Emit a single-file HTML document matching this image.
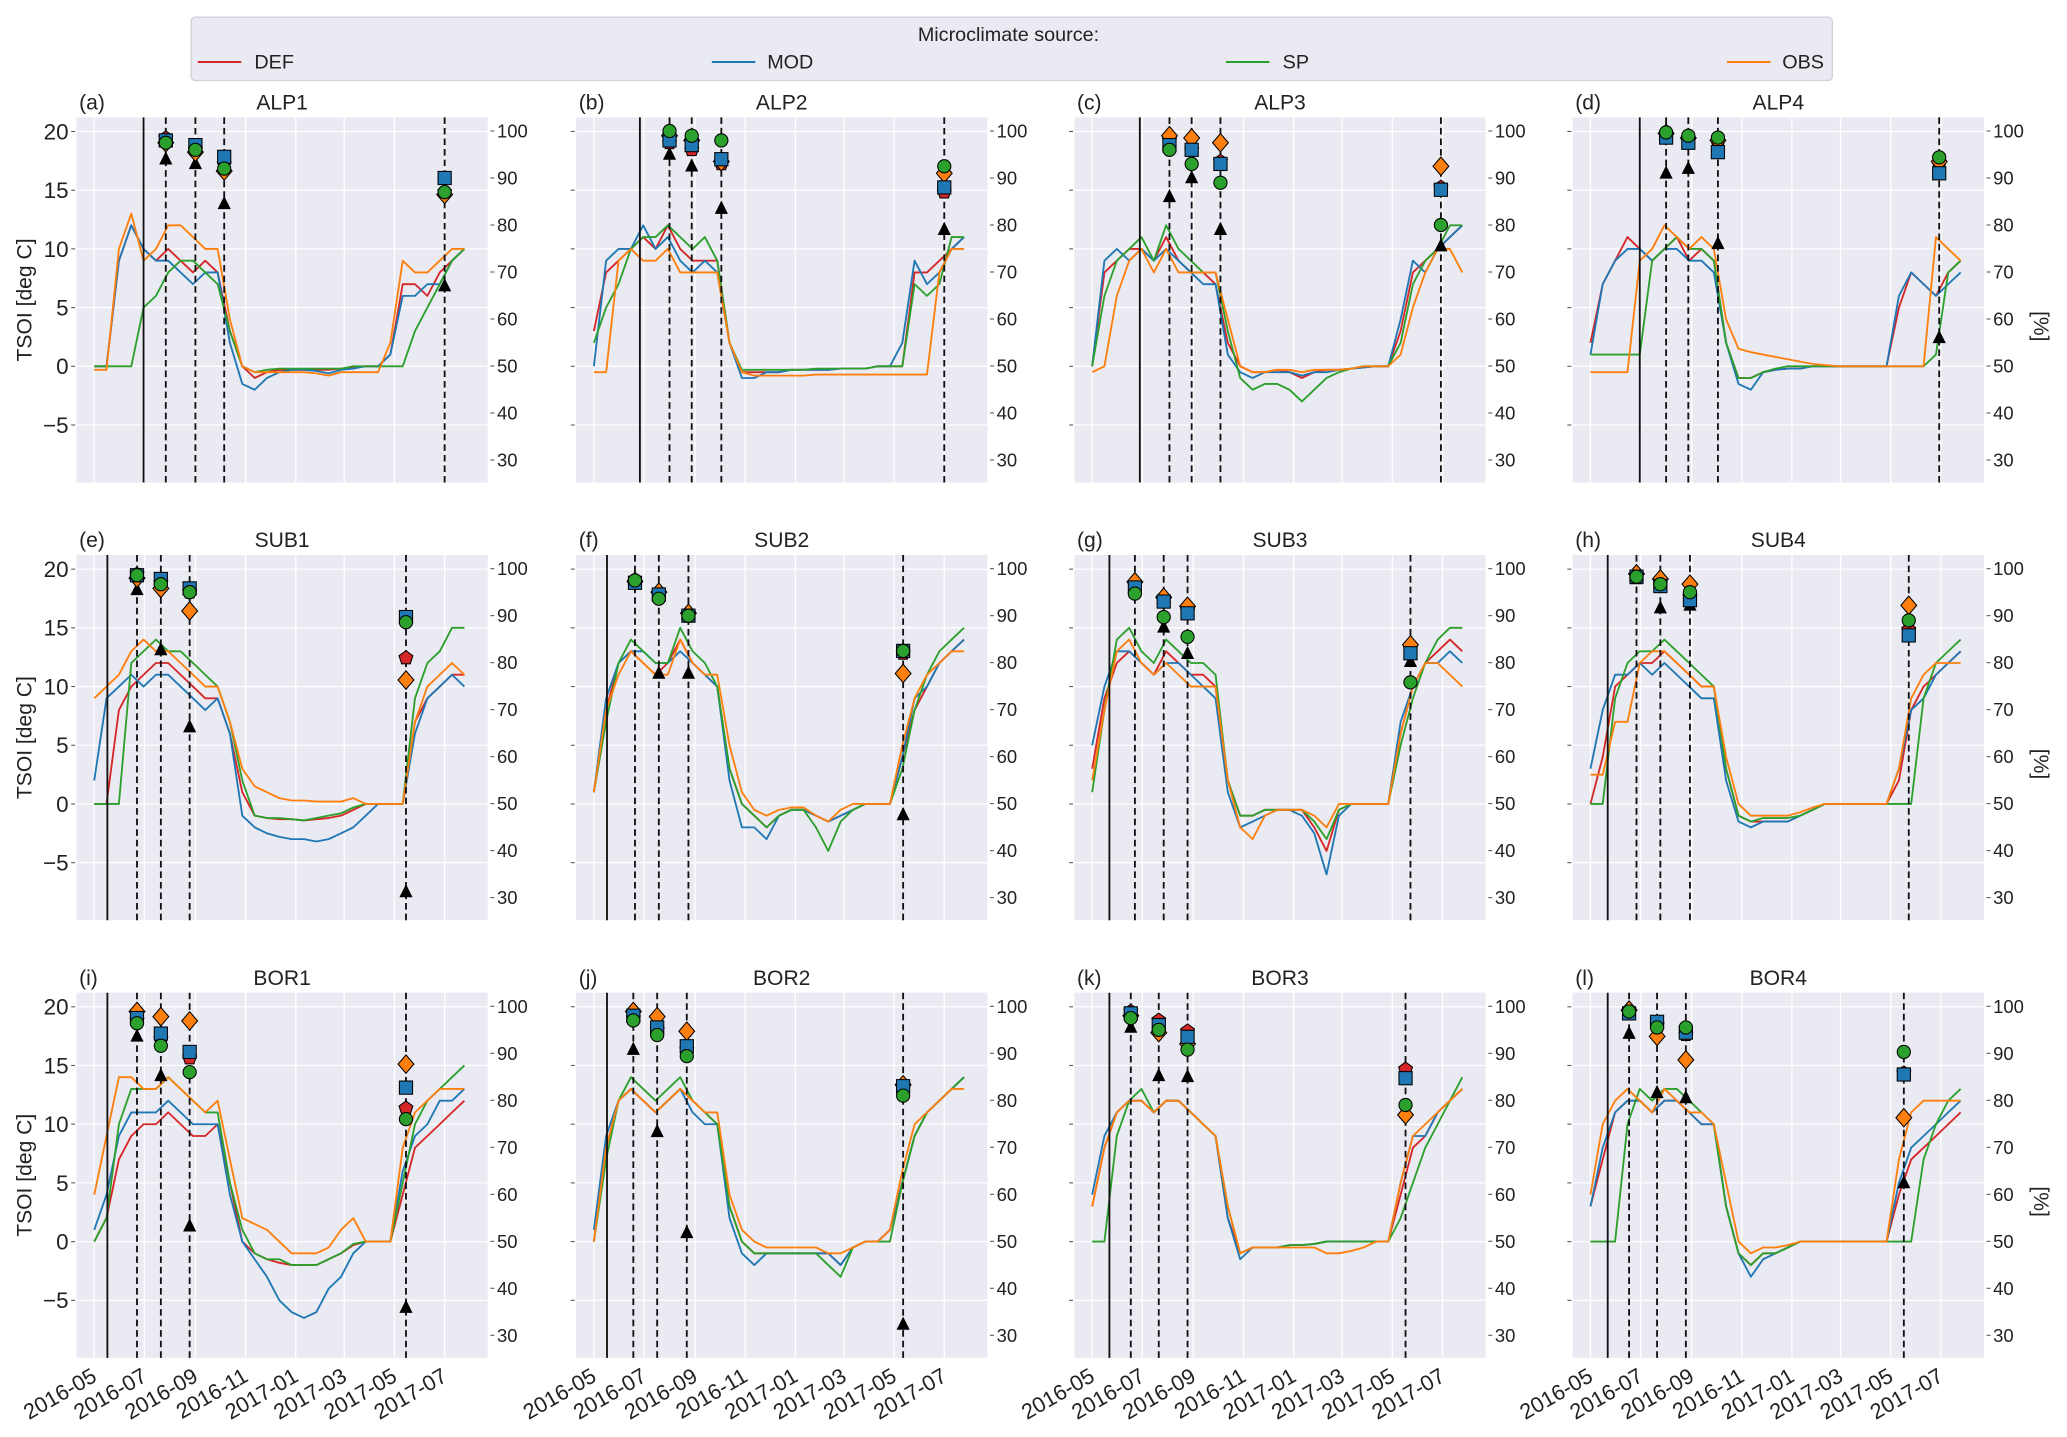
<!DOCTYPE html>
<html><head><meta charset="utf-8"><style>
html,body{margin:0;padding:0;background:#fff;}
svg{display:block;font-family:"Liberation Sans","DejaVu Sans",sans-serif;}
</style></head><body>
<svg id="fig" width="2067" height="1437" viewBox="0 0 1568 1090" xmlns="http://www.w3.org/2000/svg">
<g>
<rect x="145" y="13" width="1245" height="48" rx="3" fill="#eaeaf2" stroke="#d0d0d8" stroke-width="1"/>
<text x="765" y="31" font-size="15" text-anchor="middle" fill="#222">Microclimate source:</text>
<g><line x1="150" y1="47" x2="183" y2="47" stroke="#d62728" stroke-width="1.5"/><text x="193" y="52" font-size="15" fill="#222">DEF</text></g>
<g><line x1="540" y1="47" x2="573" y2="47" stroke="#1f77b4" stroke-width="1.5"/><text x="582" y="52" font-size="15" fill="#222">MOD</text></g>
<g><line x1="930" y1="47" x2="963" y2="47" stroke="#2ca02c" stroke-width="1.5"/><text x="973" y="52" font-size="15" fill="#222">SP</text></g>
<g><line x1="1310" y1="47" x2="1343" y2="47" stroke="#ff7f0e" stroke-width="1.5"/><text x="1352" y="52" font-size="15" fill="#222">OBS</text></g>
</g>
</svg>
<script>
const DAYS=[0,15,30,45,60,75,90,105,120,135,150,165,180,195,210,225,240,255,270,285,300,315,330,345,360,375,390,405,420,435,450];
const XTICK_DAYS=[0,61,123,184,245,304,365,426];
const XTICK_LABELS=["2016-05","2016-07","2016-09","2016-11","2017-01","2017-03","2017-05","2017-07"];
const YTICKS=[20,15,10,5,0,-5];
const YTICK_LABELS=["20","15","10","5","0","\u22125"];
const RTICKS=[100,90,80,70,60,50,40,30];

const ALP1_DEF=[0,0,9,12,10,9,10,9,8,9,8,3,0,-1,-0.5,-0.3,-0.3,-0.3,-0.3,-0.3,-0.2,-0.1,0,0,1,7,7,6,8,9,10];
const ALP1_MOD=[0,0,9,12,10,9,9,8,7,8,8,2,-1.5,-2,-1,-0.5,-0.3,-0.3,-0.4,-0.6,-0.3,-0.2,0,0,1,6,6,7,7,9,10];
const ALP1_SP=[0,0,0,0,5,6,8,9,9,8,7,3,0,-0.5,-0.3,-0.2,-0.2,-0.2,-0.2,-0.2,-0.2,0,0,0,0,0,3,5,7,9,10];
const ALP1_OBS=[-0.3,-0.3,10,13,9,10,12,12,11,10,10,4,0,-0.5,-0.5,-0.5,-0.5,-0.5,-0.6,-0.8,-0.5,-0.5,-0.5,-0.5,2,9,8,8,9,10,10];
const ALP2_DEF=[3,8,9,10,11,10,12,10,9,9,9,2,-0.5,-0.5,-0.5,-0.5,-0.3,-0.3,-0.3,-0.3,-0.2,-0.2,-0.2,0,0,0,8,8,9,10,11];
const ALP2_MOD=[0,9,10,10,12,10,11,9,8,9,8,2,-1,-1,-0.5,-0.5,-0.3,-0.3,-0.3,-0.3,-0.2,-0.2,-0.2,0,0,2,9,7,8,10,11];
const ALP2_SP=[2,5,7,10,11,11,12,11,10,11,9,2,-0.3,-0.3,-0.3,-0.3,-0.3,-0.3,-0.2,-0.2,-0.2,-0.2,-0.2,0,0,0,7,6,7,11,11];
const ALP2_OBS=[-0.5,-0.5,9,10,9,9,10,8,8,8,8,2,-0.5,-0.8,-0.8,-0.8,-0.8,-0.8,-0.7,-0.7,-0.7,-0.7,-0.7,-0.7,-0.7,-0.7,-0.7,-0.7,8,10,10];
const ALP3_DEF=[0,8,9,10,10,9,11,9,8,8,7,2,0,-0.5,-0.5,-0.3,-0.5,-1,-0.5,-0.3,-0.3,-0.2,-0.1,0,0,3,8,9,10,11,12];
const ALP3_MOD=[0,9,10,9,10,9,10,9,8,7,7,1,-0.5,-1,-0.5,-0.5,-0.5,-0.8,-0.5,-0.5,-0.3,-0.2,-0.1,0,0,4,9,8,10,11,12];
const ALP3_SP=[0,6,9,10,11,9,12,10,9,8,8,3,-1,-2,-1.5,-1.5,-2,-3,-2,-1,-0.5,-0.2,0,0,0,2,7,9,10,12,12];
const ALP3_OBS=[-0.5,0,6,9,10,8,10,8,8,8,8,4,0,-0.5,-0.5,-0.3,-0.3,-0.5,-0.3,-0.3,-0.3,-0.2,0,0,0,1,5,8,10,10,8];
const ALP4_DEF=[2,7,9,11,10,9,10,11,9,10,9,2,-1,-1,-0.5,-0.3,-0.2,-0.2,0,0,0,0,0,0,0,5,8,7,6,8,9];
const ALP4_MOD=[1,7,9,10,10,9,10,10,9,9,8,2,-1.5,-2,-0.5,-0.3,-0.2,-0.2,0,0,0,0,0,0,0,6,8,7,6,7,8];
const ALP4_SP=[1,1,1,1,1,9,10,11,10,10,9,2,-1,-1,-0.5,-0.2,0,0,0,0,0,0,0,0,0,0,0,0,1,8,9];
const ALP4_OBS=[-0.5,-0.5,-0.5,-0.5,9,10,12,11,10,11,10,4,1.5,1.2,1,0.8,0.6,0.4,0.2,0.1,0,0,0,0,0,0,0,0,11,10,9];
const SUB1_DEF=[0,0,8,10,11,12,12,11,10,9,9,6,1,-1,-1.2,-1.3,-1.3,-1.4,-1.3,-1.2,-1,-0.5,0,0,0,0,7,9,10,11,11];
const SUB1_MOD=[2,9,10,11,10,11,11,10,9,8,9,6,-1,-2,-2.5,-2.8,-3,-3,-3.2,-3,-2.5,-2,-1,0,0,0,6,9,10,11,10];
const SUB1_SP=[0,0,0,12,13,14,13,13,12,11,10,7,2,-1,-1.2,-1.2,-1.3,-1.4,-1.2,-1,-0.8,-0.3,0,0,0,0,9,12,13,15,15];
const SUB1_OBS=[9,10,11,13,14,13,13,12,11,10,10,7,3,1.5,1,0.5,0.3,0.3,0.2,0.2,0.2,0.5,0,0,0,0,7,10,11,12,11];
const SUB2_DEF=[1,8,12,13,12,11,12,14,12,11,10,3,0,-1,-2,-1,-0.5,-0.5,-1,-1.5,-1,-0.5,0,0,0,4,8,10,12,13,14];
const SUB2_MOD=[1,9,12,13,13,12,12,13,12,11,10,2,-2,-2,-3,-1,-0.5,-0.5,-1,-1.5,-1,-0.5,0,0,0,4,9,10,12,13,14];
const SUB2_SP=[1,7,12,14,13,12,12,15,13,12,10,3,0,-1,-2,-1,-0.5,-0.5,-2,-4,-1.5,-0.5,0,0,0,3,8,11,13,14,15];
const SUB2_OBS=[1,8,11,13,12,11,11,14,12,11,11,5,1,-0.5,-1,-0.5,-0.3,-0.3,-1,-1.5,-0.5,0,0,0,0,5,9,11,12,13,13];
const SUB3_DEF=[3,9,12,13,12,11,13,12,11,11,10,2,-1,-1,-0.5,-0.5,-0.5,-0.5,-2,-4,-0.5,0,0,0,0,6,10,12,13,14,13];
const SUB3_MOD=[5,10,13,13,12,11,12,12,11,10,9,1,-2,-1.5,-1,-0.5,-0.5,-1,-2.5,-6,-1,0,0,0,0,7,10,12,12,13,12];
const SUB3_SP=[1,8,14,15,13,12,14,13,12,12,11,2,-1,-1,-0.5,-0.5,-0.5,-0.5,-1.5,-3,-0.5,0,0,0,0,5,9,12,14,15,15];
const SUB3_OBS=[2,8,13,14,12,11,12,11,10,10,10,2,-2,-3,-1,-0.5,-0.5,-0.5,-1,-2,0,0,0,0,0,6,10,12,12,11,10];
const SUB4_DEF=[0,4,10,11,12,12,13,12,11,10,10,3,-1,-1.5,-1.5,-1.5,-1.5,-1,-0.5,0,0,0,0,0,0,2,8,10,11,12,13];
const SUB4_MOD=[3,8,11,11,12,11,12,11,10,9,9,2,-1.5,-2,-1.5,-1.5,-1.5,-1,-0.5,0,0,0,0,0,0,3,8,9,11,12,13];
const SUB4_SP=[0,0,9,12,13,13,14,13,12,11,10,3,-1,-1.5,-1.2,-1.2,-1.2,-1,-0.5,0,0,0,0,0,0,0,0,9,12,13,14];
const SUB4_OBS=[2.5,2.5,7,7,12,13,13,12,11,10,10,4,0,-1,-1,-1,-1,-0.7,-0.3,0,0,0,0,0,0,3,9,11,12,12,12];
const BOR1_DEF=[0,2,7,9,10,10,11,10,9,9,10,5,0,-1,-1.5,-1.8,-2,-2,-2,-1.5,-1,-0.3,0,0,0,4,8,9,10,11,12];
const BOR1_MOD=[1,4,9,11,11,11,12,11,10,10,10,4,0,-1.5,-3,-5,-6,-6.5,-6,-4,-3,-1,0,0,0,6,9,10,12,12,13];
const BOR1_SP=[0,2,10,13,13,13,14,13,12,11,11,5,1,-1,-1.5,-1.5,-2,-2,-2,-1.5,-1,-0.2,0,0,0,5,10,12,13,14,15];
const BOR1_OBS=[4,9,14,14,13,13,14,13,12,11,12,7,2,1.5,1,0,-1,-1,-1,-0.5,1,2,0,0,0,8,11,12,13,13,13];
const BOR2_DEF=[0,8,12,13,12,11,12,13,12,11,10,3,0,-1,-1,-1,-1,-1,-1,-1,-2,-0.5,0,0,1,5,9,11,12,13,14];
const BOR2_MOD=[1,9,12,13,12,11,12,13,11,10,10,2,-1,-2,-1,-1,-1,-1,-1,-1,-2,-0.5,0,0,1,5,9,11,12,13,14];
const BOR2_SP=[0,7,12,14,13,12,13,14,12,11,10,3,0,-1,-1,-1,-1,-1,-1,-2,-3,-0.5,0,0,0,5,9,11,12,13,14];
const BOR2_OBS=[0,8,12,13,12,11,12,13,12,11,11,4,1,0,-0.5,-0.5,-0.5,-0.5,-0.5,-1,-1,-0.5,0,0,1,6,10,11,12,13,13];
const BOR3_DEF=[3,8,11,12,12,11,12,12,11,10,9,2,-1,-0.5,-0.5,-0.5,-0.3,-0.3,-0.2,0,0,0,0,0,0,4,8,9,11,12,13];
const BOR3_MOD=[4,9,11,12,12,11,12,12,11,10,9,2,-1.5,-0.5,-0.5,-0.5,-0.3,-0.3,-0.2,0,0,0,0,0,0,5,9,9,11,12,13];
const BOR3_SP=[0,0,9,12,13,11,12,12,11,10,9,3,-1,-0.5,-0.5,-0.5,-0.3,-0.3,-0.2,0,0,0,0,0,0,2,5,8,10,12,14];
const BOR3_OBS=[3,8,11,12,12,11,12,12,11,10,9,3,-1,-0.5,-0.5,-0.5,-0.5,-0.5,-0.5,-1,-1,-0.8,-0.5,0,0,5,9,10,11,12,13];
const BOR4_DEF=[3,7,11,12,12,11,12,12,11,10,10,3,-1,-2,-1,-1,-0.5,0,0,0,0,0,0,0,0,4,7,8,9,10,11];
const BOR4_MOD=[3,8,11,12,12,11,12,12,11,10,10,3,-1,-3,-1.5,-1,-0.5,0,0,0,0,0,0,0,0,5,8,9,10,11,12];
const BOR4_SP=[0,0,0,10,13,12,13,13,12,11,10,3,-1,-2,-1,-1,-0.5,0,0,0,0,0,0,0,0,0,0,7,10,12,13];
const BOR4_OBS=[4,10,12,13,12,11,13,12,11,11,10,5,0,-1,-0.5,-0.5,-0.3,0,0,0,0,0,0,0,0,7,11,12,12,12,12];

const SOLID_DAYS=[60,56,58,60,16,16,21,21,16,16,21,21];
const EVENTS_ALP1=[87,123,158,426],EVENTS_ALP2=[92,119,155,426],EVENTS_ALP3=[94,121,156,424],EVENTS_ALP4=[92,119,155,424];
const EVENTS_SUB1=[52,81,116,379],EVENTS_SUB2=[50,79,115,376],EVENTS_SUB3=[52,87,116,387],EVENTS_SUB4=[56,85,121,387];
const EVENTS_BOR1=[52,81,116,379],EVENTS_BOR2=[48,77,113,376],EVENTS_BOR3=[47,81,116,381],EVENTS_BOR4=[47,81,116,381];

const M_DEF=[[98.5,96,93,87],[97.5,96,93,87],[98,96,93.5,88],[99,98,97.5,93],[98.8,97,95,81],[97.2,94.5,90.5,82],[96.5,93.5,91,83],[98.5,96.5,94,87],[97,93,89,78.3],[97.5,95,90.8,82.5],[98.9,97,94.7,86.6],[98.5,96,94,85.8]];
const M_MOD=[[98,97,94.5,90],[98,97,94,88],[97,96,93,87.5],[98.6,97.5,95.5,91],[98.6,97.8,95.8,89.7],[97,94.5,90,82.5],[96,93,90.5,82],[98.3,96.3,93.3,85.8],[97.5,94.2,90.3,82.7],[98,95.5,91.5,83],[98.5,96,93.5,84.7],[98.5,96.7,94.4,85.5]];
const M_SP=[[97.5,96,92,87],[100,99,98,92.5],[96,93,89,80],[99.7,99,98.6,94.4],[98.6,96.7,95,88.6],[97.5,93.6,90,82.5],[94.7,89.7,85.5,75.8],[98.3,96.7,95,89],[96.4,91.6,86,76],[97,93.9,89.4,81],[97.5,95,90.8,79],[98.9,95.5,95.5,90.3]];
const M_OBS=[[97.5,95.5,91.5,86.5],[99,98,93.5,91],[99,98.5,97.5,92.5],[99.5,98.5,98,93.5],[98,95.8,91,76.3],[97.3,95,90.5,77.7],[97.2,93.9,92,83.8],[98.9,97.8,96.7,92.2],[98.9,97.8,96.9,87.7],[98.9,97.8,94.7,83.3],[98,94.4,92,76.9],[99.2,93.6,88.6,76.3]];
const M_TRI=[[94,93,84.5,67],[95,92.5,83.5,79],[86,90,79,75.5],[91,92,76,56],[95.5,82.7,66.3,31.2],[96.7,77.7,77.7,47.6],[95,87.5,81.9,80.2],[97.8,91.6,92.2,88.3],[93.6,85.2,53.2,35.9],[90.8,73.3,51.8,32.3],[95.5,85.2,85,77.4],[94.2,81.6,80.5,62.4]];

const NAMES=["ALP1","ALP2","ALP3","ALP4","SUB1","SUB2","SUB3","SUB4","BOR1","BOR2","BOR3","BOR4"];
const LETTERS=["a","b","c","d","e","f","g","h","i","j","k","l"];
const SERIES={ALP1:[ALP1_DEF,ALP1_MOD,ALP1_SP,ALP1_OBS],ALP2:[ALP2_DEF,ALP2_MOD,ALP2_SP,ALP2_OBS],ALP3:[ALP3_DEF,ALP3_MOD,ALP3_SP,ALP3_OBS],ALP4:[ALP4_DEF,ALP4_MOD,ALP4_SP,ALP4_OBS],
SUB1:[SUB1_DEF,SUB1_MOD,SUB1_SP,SUB1_OBS],SUB2:[SUB2_DEF,SUB2_MOD,SUB2_SP,SUB2_OBS],SUB3:[SUB3_DEF,SUB3_MOD,SUB3_SP,SUB3_OBS],SUB4:[SUB4_DEF,SUB4_MOD,SUB4_SP,SUB4_OBS],
BOR1:[BOR1_DEF,BOR1_MOD,BOR1_SP,BOR1_OBS],BOR2:[BOR2_DEF,BOR2_MOD,BOR2_SP,BOR2_OBS],BOR3:[BOR3_DEF,BOR3_MOD,BOR3_SP,BOR3_OBS],BOR4:[BOR4_DEF,BOR4_MOD,BOR4_SP,BOR4_OBS]};
const EVENTS={ALP1:EVENTS_ALP1,ALP2:EVENTS_ALP2,ALP3:EVENTS_ALP3,ALP4:EVENTS_ALP4,SUB1:EVENTS_SUB1,SUB2:EVENTS_SUB2,SUB3:EVENTS_SUB3,SUB4:EVENTS_SUB4,BOR1:EVENTS_BOR1,BOR2:EVENTS_BOR2,BOR3:EVENTS_BOR3,BOR4:EVENTS_BOR4};

const COLORS=["#d62728","#1f77b4","#2ca02c","#ff7f0e"];
const SRC=["def","mod","sp","obs"];
const NS="http://www.w3.org/2000/svg";
const svg=document.getElementById("fig");
const COL_L=[58,437,815,1193], PW=312, ROW_T=[89,421,753], PH=277;
const YMIN=-9.9,YMAX=21.2,RMIN=25.2,RMAX=102.9,DMIN=-21.6,DMAX=478.4;

function mk(tag,attrs,parent){const e=document.createElementNS(NS,tag);for(const k in attrs)e.setAttribute(k,attrs[k]);(parent||svg).appendChild(e);return e;}

NAMES.forEach((name,p)=>{
  const c=p%4,r=Math.floor(p/4),L=COL_L[c],T=ROW_T[r];
  const xs=d=>L+(d-DMIN)/(DMAX-DMIN)*PW;
  const ys=v=>T+(YMAX-v)/(YMAX-YMIN)*PH;
  const yr=v=>T+(RMAX-v)/(RMAX-RMIN)*PH;
  const g=mk("g",{});
  
  
  const bg=mk("rect",{x:L,y:T,width:PW,height:PH,fill:"#eaeaf2"},g);
  
  
  XTICK_DAYS.forEach(d=>{mk("line",{x1:xs(d),x2:xs(d),y1:T,y2:T+PH,stroke:"#fff","stroke-width":1},g);});
  YTICKS.forEach((v,i)=>{
    mk("line",{x1:L,x2:L+PW,y1:ys(v),y2:ys(v),stroke:"#fff","stroke-width":1},g);
    mk("line",{x1:L-4,x2:L-1,y1:ys(v),y2:ys(v),stroke:"#555","stroke-width":0.8},g);
    if(c===0){const t=mk("text",{x:L-6,y:ys(v)+6,"font-size":17,"text-anchor":"end",fill:"#222"},g);t.textContent=YTICK_LABELS[i];
      
      }
  });
  RTICKS.forEach(v=>{
    mk("line",{x1:L+PW+2,x2:L+PW+5,y1:yr(v),y2:yr(v),stroke:"#555","stroke-width":0.8},g);
    const t=mk("text",{x:L+PW+7,y:yr(v)+5,"font-size":14,fill:"#222"},g);t.textContent=v;
    
    
  });
  const lt=mk("text",{x:L+2,y:T-6,"font-size":16,fill:"#222"},g);lt.textContent="("+LETTERS[p]+")";
  
  
  const tt=mk("text",{x:L+PW/2,y:T-6,"font-size":16,"text-anchor":"middle",fill:"#222"},g);tt.textContent=name;
  
  
  SERIES[name].forEach((arr,s)=>{
    const pts=arr.map((v,i)=>xs(DAYS[i]).toFixed(1)+","+ys(v).toFixed(1)).join(" ");
    const pl=mk("polyline",{points:pts,fill:"none",stroke:COLORS[s],"stroke-width":1.4,"stroke-linejoin":"round"},g);
    
    
  });
  const sl=mk("line",{x1:xs(SOLID_DAYS[p]),x2:xs(SOLID_DAYS[p]),y1:T,y2:T+PH,stroke:"#111","stroke-width":1.4},g);
  
  
  EVENTS[name].forEach((d,e)=>{
    const x=xs(d);
    const dl=mk("line",{x1:x,x2:x,y1:T,y2:T+PH,stroke:"#111","stroke-width":1.4,"stroke-dasharray":"5,3"},g);
    
    
    let y=yr(M_TRI[p][e]);
    const tri=mk("polygon",{points:`${x},${y-6} ${x-5},${y+4} ${x+5},${y+4}`,fill:"#000"},g);
    
    
    y=yr(M_DEF[p][e]);let pp=[];for(let k=0;k<5;k++){const a=-Math.PI/2+k*2*Math.PI/5;pp.push((x+5.5*Math.cos(a)).toFixed(1)+","+(y+5.5*Math.sin(a)).toFixed(1));}
    const pe=mk("polygon",{points:pp.join(" "),fill:"#d62728",stroke:"#000","stroke-width":0.8},g);
    
    
    y=yr(M_OBS[p][e]);
    const di=mk("polygon",{points:`${x},${y-7} ${x+6},${y} ${x},${y+7} ${x-6},${y}`,fill:"#ff7f0e",stroke:"#000","stroke-width":0.8},g);
    
    
    y=yr(M_MOD[p][e]);
    const sq=mk("rect",{x:x-5,y:y-5,width:10,height:10,fill:"#1f77b4",stroke:"#000","stroke-width":0.8},g);
    
    
    y=yr(M_SP[p][e]);
    const ci=mk("circle",{cx:x,cy:y,r:5,fill:"#2ca02c",stroke:"#000","stroke-width":0.8},g);
    
    
  });
  if(r===2){
    XTICK_DAYS.forEach((d,i)=>{
      const x=xs(d)+3,y=T+PH+17;
      const t=mk("text",{x:x,y:y,"font-size":16.5,"text-anchor":"end",fill:"#222",transform:`rotate(-30 ${x} ${y})`},g);
      t.textContent=XTICK_LABELS[i];
      
      
    });
  }
  if(c===0){
    const cy=T+PH/2;
    const yl=mk("text",{x:24,y:cy,"font-size":16,"text-anchor":"middle",fill:"#222",transform:`rotate(-90 24 ${cy})`},g);
    yl.textContent="TSOI [deg C]";
    
    
  }
  if(c===3){
    const cy=T+PH/2+20;
    const yl=mk("text",{x:1543,y:cy,"font-size":16,"text-anchor":"middle",fill:"#222",transform:`rotate(90 1543 ${cy})`},g);
    yl.textContent="[%]";
    
    
  }
});
</script>
</body></html>
